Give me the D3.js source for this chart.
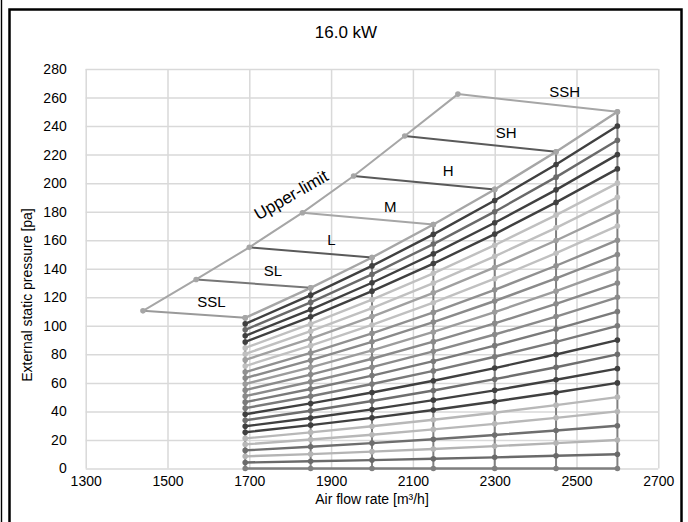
<!DOCTYPE html>
<html>
<head>
<meta charset="utf-8">
<script src="https://cdn.jsdelivr.net/npm/d3@7"></script>
<style>
  body { margin: 0; background: #fff; }
  svg { display: block; }
  text { font-family: "Liberation Sans", Arial, sans-serif; fill: #000; }
</style>
</head>
<body>
<svg id="chart" width="688" height="522"></svg>
<script>
// ---- chart data ----
const chartTitle = "16.0 kW";
const xTitle = "Air flow rate [m³/h]";
const yTitle = "External static pressure [pa]";
const upperLimitText = "Upper-limit";

const xTicks = [1300, 1500, 1700, 1900, 2100, 2300, 2500, 2700];
const yTicks = [0, 20, 40, 60, 80, 100, 120, 140, 160, 180, 200, 220, 240, 260, 280];

// air flow points shared by every resistance curve
const flowPoints = [1690, 1850, 2000, 2150, 2300, 2450, 2600];

// static pressure of each resistance curve at the flow points (bottom to top)
const pressureSeries = [
  [0, 0, 0, 0, 0, 0, 0],
  [4.2, 5.1, 5.9, 6.8, 7.8, 8.9, 10],
  [8.5, 10.1, 11.8, 13.7, 15.7, 17.8, 20],
  [12.7, 15.2, 17.8, 20.5, 23.5, 26.6, 30],
  [16.9, 20.3, 23.7, 27.4, 31.3, 35.5, 40],
  [21.1, 25.3, 29.6, 34.2, 39.1, 44.4, 50],
  [25.4, 30.4, 35.5, 41.0, 47.0, 53.3, 60],
  [29.6, 35.4, 41.4, 47.9, 54.8, 62.2, 70],
  [33.8, 40.5, 47.3, 54.7, 62.6, 71.0, 80],
  [38.0, 45.6, 53.3, 61.5, 70.4, 79.9, 90],
  [42.3, 50.6, 59.2, 68.4, 78.3, 88.8, 100],
  [46.5, 55.7, 65.1, 75.2, 86.1, 97.7, 110],
  [50.7, 60.8, 71.0, 82.1, 93.9, 106.5, 120],
  [54.9, 65.8, 76.9, 88.9, 101.7, 115.4, 130],
  [59.2, 70.9, 82.8, 95.7, 109.6, 124.3, 140],
  [63.4, 75.9, 88.8, 102.6, 117.4, 133.2, 150],
  [67.6, 81.0, 94.7, 109.4, 125.2, 142.1, 160],
  [71.8, 86.1, 100.6, 116.2, 133.0, 150.9, 170],
  [76.1, 91.1, 106.5, 123.1, 140.9, 159.8, 180],
  [80.3, 96.2, 112.4, 129.9, 148.7, 168.7, 190],
  [84.5, 101.3, 118.3, 136.8, 156.5, 177.6, 200],
  [88.7, 106.3, 124.3, 143.6, 164.3, 186.5, 210],
  [93.0, 111.4, 130.2, 150.4, 172.2, 195.3, 220],
  [97.2, 116.4, 136.1, 157.3, 180.0, 204.2, 230],
  [101.4, 121.5, 142.0, 164.1, 187.8, 213.1, 240],
  [105.6, 126.6, 147.9, 171.0, 195.6, 222.0, 250]
];

// fan speed taps: upper-limit point and the point where the tap meets the top curve
const tapNames = ["SSL", "SL", "L", "M", "H", "SH", "SSH"];
const tapLimitFlow = [1440, 1570, 1700, 1830, 1955, 2080, 2210];
const tapLimitPressure = [110.5, 132.5, 155, 179.3, 205, 233, 262.4];
const tapEndFlow = [1690, 1850, 2000, 2150, 2300, 2450, 2600];
const tapEndPressure = [105.6, 126.6, 147.9, 171.0, 195.6, 222.0, 250];

// ---- styles ----
const seriesColors = [
  "#7f7f7f", "#6a6a6a", "#b4b4b4", "#6e6e6e", "#b8b8b8", "#b8b8b8",
  "#404040", "#404040", "#6e6e6e", "#404040", "#7a7a7a", "#7a7a7a",
  "#8a8a8a", "#8a8a8a", "#9c9c9c", "#8a8a8a", "#909090", "#c0c0c0",
  "#a0a0a0", "#c0c0c0", "#c0c0c0", "#404040", "#404040", "#6a6a6a",
  "#404040", "#a6a6a6"
];
const tapColors = ["#9a9a9a", "#777777", "#5a5a5a", "#a6a6a6", "#5a5a5a", "#5a5a5a", "#a6a6a6"];
const limitColor = "#a6a6a6";
const columnColor = "#808080";
const gridColor = "#d9d9d9";

const svg = d3.select("#chart");

// outer frame
svg.append("line").attr("x1", 1.5).attr("x2", 1.5).attr("y1", 0).attr("y2", 522)
  .attr("stroke", "#000").attr("stroke-width", 1.4);
svg.append("rect").attr("x", 9.5).attr("y", 9.5).attr("width", 672).attr("height", 540)
  .attr("fill", "none").attr("stroke", "#000").attr("stroke-width", 2.5);

const plot = { left: 85.7, right: 658.3, top: 69, bottom: 468.5 };
const x = d3.scaleLinear().domain([1300, 2700]).range([plot.left, plot.right]);
const y = d3.scaleLinear().domain([0, 280]).range([plot.bottom, plot.top]);

// gridlines
svg.append("g")
  .attr("transform", `translate(0,${plot.bottom})`)
  .call(d3.axisBottom(x).tickValues(xTicks).tickSize(-(plot.bottom - plot.top)).tickFormat(""))
  .call(g => g.select(".domain").remove())
  .call(g => g.selectAll("line").attr("stroke", gridColor).attr("stroke-width", 1.5));
svg.append("g")
  .attr("transform", `translate(${plot.left},0)`)
  .call(d3.axisLeft(y).tickValues(yTicks).tickSize(-(plot.right - plot.left)).tickFormat(""))
  .call(g => g.select(".domain").remove())
  .call(g => g.selectAll("line").attr("stroke", gridColor).attr("stroke-width", 1.5));

// tick labels
svg.append("g")
  .attr("transform", `translate(0,${plot.bottom})`)
  .call(d3.axisBottom(x).tickValues(xTicks).tickSize(0).tickPadding(7.5).tickFormat(d3.format("d")))
  .call(g => g.select(".domain").remove())
  .call(g => g.selectAll("text").attr("font-size", 14).attr("font-family", "Liberation Sans, Arial, sans-serif").attr("fill", "#000"));
svg.append("g")
  .attr("transform", `translate(${plot.left},0)`)
  .call(d3.axisLeft(y).tickValues(yTicks).tickSize(0).tickPadding(19).tickFormat(d3.format("d")))
  .call(g => g.select(".domain").remove())
  .call(g => g.selectAll("text").attr("font-size", 14).attr("font-family", "Liberation Sans, Arial, sans-serif").attr("fill", "#000"));

// axis titles and chart title
svg.append("text").attr("x", 346).attr("y", 38).attr("text-anchor", "middle")
  .attr("font-size", 17).text(chartTitle);
svg.append("text").attr("x", (plot.left + plot.right) / 2).attr("y", 504).attr("text-anchor", "middle")
  .attr("font-size", 14).text(xTitle);
svg.append("text").attr("transform", "translate(32,295) rotate(-90)").attr("text-anchor", "middle")
  .attr("font-size", 14).text(yTitle);

// vertical connectors at each flow point
const topCurve = pressureSeries[pressureSeries.length - 1];
svg.append("g").selectAll("line").data(flowPoints).join("line")
  .attr("x1", d => x(d)).attr("x2", d => x(d))
  .attr("y1", y(0)).attr("y2", (d, j) => y(topCurve[j]))
  .attr("stroke", columnColor).attr("stroke-width", 2);

// resistance curves
const curve = d3.line().x((d, j) => x(flowPoints[j])).y(d => y(d));
svg.append("g").selectAll("path").data(pressureSeries).join("path")
  .attr("d", curve).attr("fill", "none")
  .attr("stroke", (d, i) => seriesColors[i]).attr("stroke-width", 2.4);

const dots = svg.append("g");
pressureSeries.forEach((s, i) => {
  dots.selectAll(null).data(s).join("circle")
    .attr("cx", (d, j) => x(flowPoints[j])).attr("cy", d => y(d)).attr("r", 2.8)
    .attr("fill", seriesColors[i]);
});

// upper-limit line through the tap limit points
const limitPts = tapLimitFlow.map((f, k) => [f, tapLimitPressure[k]]);
svg.append("path")
  .attr("d", d3.line().x(d => x(d[0])).y(d => y(d[1]))(limitPts))
  .attr("fill", "none").attr("stroke", limitColor).attr("stroke-width", 2);

// speed tap lines
const taps = tapNames.map((n, k) => ({
  name: n, f0: tapLimitFlow[k], p0: tapLimitPressure[k], f1: tapEndFlow[k], p1: tapEndPressure[k], color: tapColors[k]
}));
svg.append("g").selectAll("line").data(taps).join("line")
  .attr("x1", d => x(d.f0)).attr("y1", d => y(d.p0))
  .attr("x2", d => x(d.f1)).attr("y2", d => y(d.p1))
  .attr("stroke", d => d.color).attr("stroke-width", 2);

svg.append("g").selectAll("circle").data(limitPts).join("circle")
  .attr("cx", d => x(d[0])).attr("cy", d => y(d[1])).attr("r", 2.8).attr("fill", limitColor);
svg.append("g").selectAll("circle").data(taps).join("circle")
  .attr("cx", d => x(d.f1)).attr("cy", d => y(d.p1)).attr("r", 2.8).attr("fill", limitColor);

// tap labels, placed along each tap line
svg.append("g").selectAll("text").data(taps).join("text")
  .attr("x", d => x(d.f0 + 0.67 * (d.f1 - d.f0)))
  .attr("y", d => y(d.p0 + 0.67 * (d.p1 - d.p0)) - 9)
  .attr("text-anchor", "middle").attr("font-size", 15)
  .text(d => d.name);

// upper-limit label along the curve
svg.append("text")
  .attr("transform", "translate(294,200) rotate(-30)")
  .attr("text-anchor", "middle").attr("font-size", 17)
  .text(upperLimitText);
</script>
</body>
</html>
